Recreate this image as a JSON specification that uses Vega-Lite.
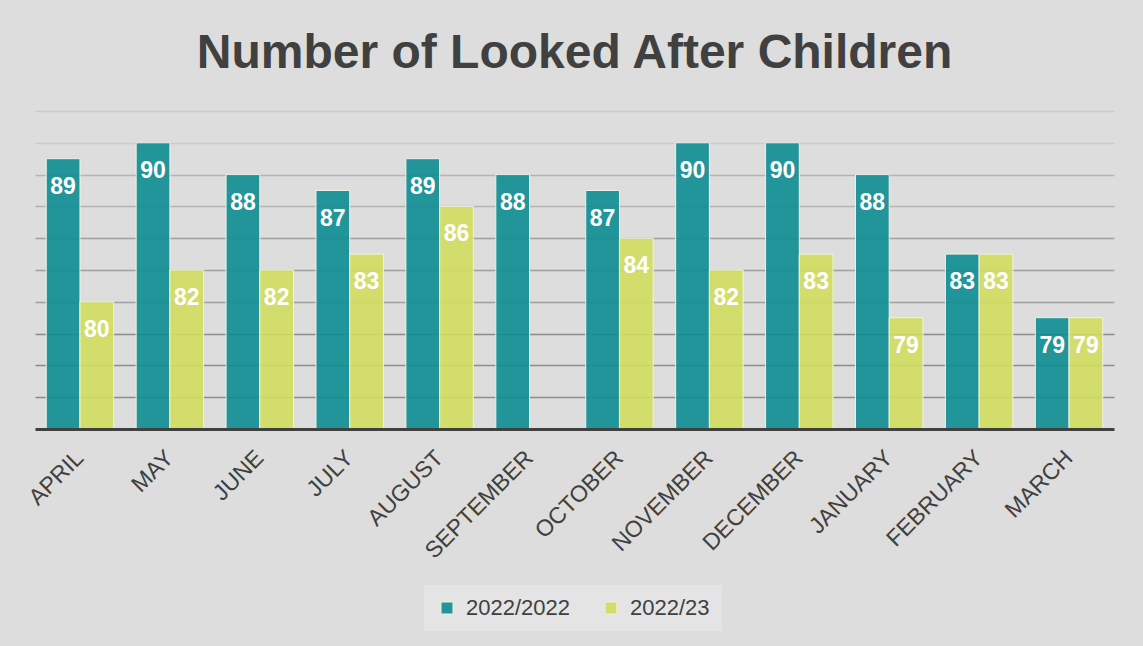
{
  "$schema": "https://vega.github.io/schema/vega-lite/v6.json",
  "width": 1079,
  "height": 318,
  "autosize": {"type": "none"},
  "padding": {"left": 35, "top": 111, "right": 29, "bottom": 217},
  "background": "#dddddd",
  "title": {
    "text": "Number of Looked After Children",
    "font": "Liberation Sans",
    "fontSize": 48,
    "fontWeight": "bold",
    "color": "#404040",
    "anchor": "middle",
    "offset": 33
  },
  "data": {
    "values": [
      {"month": "APRIL", "series": "2022/2022", "value": 89},
      {"month": "APRIL", "series": "2022/23", "value": 80},
      {"month": "MAY", "series": "2022/2022", "value": 90},
      {"month": "MAY", "series": "2022/23", "value": 82},
      {"month": "JUNE", "series": "2022/2022", "value": 88},
      {"month": "JUNE", "series": "2022/23", "value": 82},
      {"month": "JULY", "series": "2022/2022", "value": 87},
      {"month": "JULY", "series": "2022/23", "value": 83},
      {"month": "AUGUST", "series": "2022/2022", "value": 89},
      {"month": "AUGUST", "series": "2022/23", "value": 86},
      {"month": "SEPTEMBER", "series": "2022/2022", "value": 88},
      {"month": "SEPTEMBER", "series": "2022/23", "value": null},
      {"month": "OCTOBER", "series": "2022/2022", "value": 87},
      {"month": "OCTOBER", "series": "2022/23", "value": 84},
      {"month": "NOVEMBER", "series": "2022/2022", "value": 90},
      {"month": "NOVEMBER", "series": "2022/23", "value": 82},
      {"month": "DECEMBER", "series": "2022/2022", "value": 90},
      {"month": "DECEMBER", "series": "2022/23", "value": 83},
      {"month": "JANUARY", "series": "2022/2022", "value": 88},
      {"month": "JANUARY", "series": "2022/23", "value": 79},
      {"month": "FEBRUARY", "series": "2022/2022", "value": 83},
      {"month": "FEBRUARY", "series": "2022/23", "value": 83},
      {"month": "MARCH", "series": "2022/2022", "value": 79},
      {"month": "MARCH", "series": "2022/23", "value": 79}
    ]
  },
  "encoding": {
    "x": {
      "field": "month",
      "type": "nominal",
      "sort": null,
      "scale": {"paddingInner": 0.25, "paddingOuter": 0.125},
      "axis": {
        "title": null,
        "labelAngle": -45,
        "labelAlign": "right",
        "labelBaseline": "middle",
        "labelFont": "Liberation Sans",
        "labelFontSize": 23,
        "labelColor": "#404040",
        "labelPadding": 25,
        "ticks": false,
        "domainColor": "#404040",
        "domainWidth": 3,
        "grid": false,
        "zindex": 1
      }
    },
    "xOffset": {"field": "series", "type": "nominal", "scale": {"paddingInner": 0, "paddingOuter": 0}},
    "y": {
      "field": "value",
      "type": "quantitative",
      "scale": {"domain": [72, 92], "zero": false, "nice": false},
      "axis": {
        "title": null,
        "labels": false,
        "ticks": false,
        "domain": false,
        "values": [74, 76, 78, 80, 82, 84, 86, 88, 90, 92],
        "gridColor": {
          "condition": [
            {"test": "datum.value >= 90", "value": "#cbcbcb"},
            {"test": "datum.value >= 86", "value": "#b4b4b4"},
            {"test": "datum.value >= 80", "value": "#a0a0a0"}
          ],
          "value": "#8c8c8c"
        },
        "gridWidth": 1.5
      }
    }
  },
  "layer": [
    {
      "mark": {"type": "bar", "clip": true, "stroke": "#eef2e4", "strokeWidth": 1, "fillOpacity": 0.9},
      "encoding": {
        "y2": {"datum": 72},
        "color": {
          "field": "series",
          "type": "nominal",
          "scale": {"domain": ["2022/2022", "2022/23"], "range": ["#0c8d92", "#d2dd5e"]},
          "legend": {
            "title": null,
            "orient": "none",
            "legendX": 389,
            "legendY": 474,
            "direction": "horizontal",
            "fillColor": "#e4e4e4",
            "padding": 12,
            "symbolType": "square",
            "symbolSize": 144,
            "symbolOpacity": 0.9,
            "symbolStrokeWidth": 1,
            "symbolStrokeColor": "#eef2e4",
            "labelFont": "Liberation Sans",
            "labelFontSize": 22,
            "labelColor": "#404040",
            "labelOffset": 8,
            "columnPadding": 30
          }
        }
      }
    },
    {
      "mark": {
        "type": "text",
        "font": "Liberation Sans",
        "fontSize": 23,
        "fontWeight": "bold",
        "color": "#ffffff",
        "baseline": "alphabetic",
        "dy": 35
      },
      "encoding": {
        "text": {"field": "value", "type": "quantitative"}
      }
    }
  ]
}
